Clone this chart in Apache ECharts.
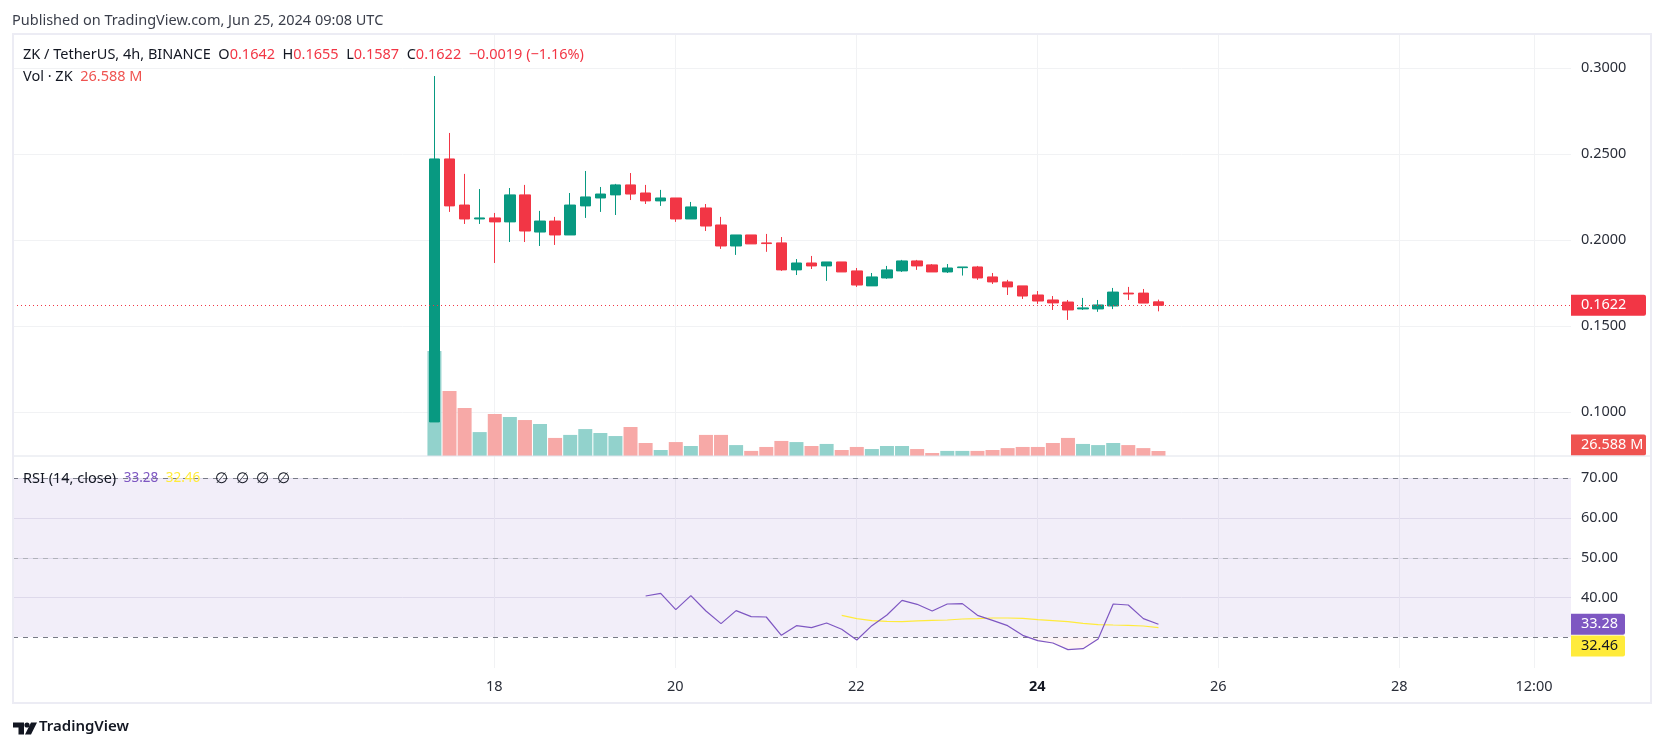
<!DOCTYPE html>
<html><head><meta charset="utf-8">
<style>html,body{margin:0;padding:0;background:#fff}#c{width:1664px;height:747px}</style>
<script src="https://cdn.jsdelivr.net/npm/echarts@6/dist/echarts.min.js"></script>
</head><body><div id="c"></div>
<script>
// candle index 0 = Jun 17 08:00, one step = 4h
const opens  = [.0944,.2473,.2205,.2124,.2130,.2107,.2264,.2048,.2112,.2031,.2200,.2246,.2264,.2322,.2275,.2229,.2246,.2124,.2188,.2089,.1967,.2031,.1985,.1985,.1828,.1868,.1851,.1874,.1822,.1735,.1781,.1822,.1880,.1857,.1816,.1841,.1845,.1787,.1758,.1735,.1682,.1653,.1641,.1601,.1601,.1618,.1693,.1693,.1642];
const closes = [.2473,.2200,.2124,.2130,.2107,.2264,.2054,.2112,.2031,.2205,.2252,.2269,.2322,.2269,.2229,.2246,.2124,.2194,.2083,.1967,.2031,.1979,.1981,.1828,.1868,.1851,.1874,.1816,.1740,.1787,.1828,.1880,.1851,.1816,.1839,.1845,.1781,.1758,.1729,.1676,.1647,.1636,.1595,.1607,.1624,.1699,.1688,.1635,.1622];
const highs  = [.2955,.2624,.2386,.2298,.2159,.2304,.2322,.2171,.2136,.2275,.2403,.2310,.2328,.2391,.2322,.2293,.2246,.2223,.2211,.2136,.2031,.2031,.2037,.2019,.1891,.1909,.1874,.1874,.1839,.1810,.1851,.1886,.1886,.1862,.1862,.1845,.1851,.1810,.1770,.1735,.1705,.1676,.1653,.1665,.1653,.1723,.1729,.1717,.1655];
const lows   = [.0944,.2165,.2095,.2095,.1868,.1990,.1990,.1967,.1973,.2031,.2130,.2165,.2147,.2234,.2211,.2200,.2107,.2124,.2054,.1950,.1915,.1979,.1933,.1822,.1798,.1833,.1764,.1816,.1729,.1735,.1776,.1816,.1828,.1816,.1810,.1795,.1770,.1746,.1682,.1659,.1630,.1595,.1537,.1595,.1584,.1600,.1653,.1635,.1587];
const volumes = [557.6,345,255,127,223,207,191,170,96,112,143,122,106,154,69,32,74,53,112,112,58,27,48,80,74,53,64,32,48,37,53,53,37,16,27,27,27,32,42,48,48,69,96,64,58,69,58,42,26.588];
const rsiStart = 14;
const rsi = [40.39,41.06,36.96,40.48,36.62,33.44,36.71,35.2,35.11,30.5,32.93,32.43,33.6,32.01,29.33,32.93,35.62,39.3,38.3,36.62,38.38,38.47,35.53,34.27,32.93,30.5,29.16,28.57,26.9,27.15,29.58,38.38,38.13,34.69,33.28];
const maStart = 27;
const rsiMa = [35.53,34.69,34.19,34.02,33.94,34.11,34.27,34.36,34.61,34.69,34.86,34.86,34.78,34.44,34.19,33.94,33.52,33.19,33.1,33.02,32.85,32.46];
const rsiBelow = [[39.3,30],[40,29.16],[41,28.57],[42,26.9],[43,27.15],[44,29.58],[44.05,30]];
const timeTicks = [3.97,15.97,27.97,39.97,51.97,63.97,72.9];
const timeLabels = ['18','20','22','24','26','28','12:00'];
const priceTicks = [0.10,0.15,0.20,0.25,0.30];
const rsiTicks = [40,50,60,70];
const lastPrice = 0.1622, lastVol = 26.588, lastRsi = 33.28, lastMa = 32.46;

const UP='#089981', DOWN='#f23645', FONT='"Noto Sans",sans-serif', TXT='#131722', GRID='#f1f2f4', F='14.5px ';
const candles = opens.map((o,i)=>[i,o,closes[i],lows[i],highs[i]]);
const volData = volumes.map((v,i)=>({value:[i,v],itemStyle:{color:closes[i]>=opens[i]?'#92d2cc':'#f7a9a7'}}));
const rsiData = rsi.map((v,i)=>[i+rsiStart,v]);
const maData = rsiMa.map((v,i)=>[i+maStart,v]);

const xMin=-27.94, xMax=75.35;
const baseX = {type:'value',min:xMin,max:xMax,
  axisLine:{show:false},
  axisTick:{show:false,customValues:timeTicks},
  splitLine:{show:true,lineStyle:{color:GRID,width:1}}};

function tag(val,text,bg,fg,w,offset,line){
  return {silent:true,symbol:'none',animation:false,z:20,precision:4,
    lineStyle:line||{color:'rgba(0,0,0,0)',width:0},
    label:{show:true,position:'end',distance:0,formatter:text,color:fg,backgroundColor:bg,
      fontFamily:FONT,fontSize:14.5,width:w,height:15,lineHeight:15,padding:[3,0,3,10],align:'left',
      borderRadius:[0,2,2,0],offset:offset||[0,0]},
    data:[{yAxis:val}]};
}
function helper(x,y,ml){return {type:'line',xAxisIndex:x,yAxisIndex:y,data:[],symbol:'none',z:7,markLine:ml};}

const chart = echarts.init(document.getElementById('c'),null,{renderer:'canvas'});
chart.setOption({
  animation:false,backgroundColor:'#fff',
  grid:[
    {left:13,right:93,top:34,height:422},
    {left:13,right:93,top:456,height:212}
  ],
  xAxis:[
    Object.assign({},baseX,{gridIndex:0,axisLabel:{show:false}}),
    Object.assign({},baseX,{gridIndex:1,axisLabel:{show:true,customValues:timeTicks,margin:11,
      fontFamily:FONT,fontSize:14.5,color:'#2a2e39',hideOverlap:false,
      formatter:v=>{const i=timeTicks.indexOf(v);const s=timeLabels[i];return s==='24'?'{b|'+s+'}':s;},
      rich:{b:{fontFamily:FONT,fontSize:14.5,fontWeight:'bold',color:'#131722'}}}})
  ],
  yAxis:[
    {type:'value',gridIndex:0,position:'right',min:0.07459,max:0.31994,
      axisLine:{show:false},axisTick:{show:false,customValues:priceTicks},
      splitLine:{show:true,lineStyle:{color:GRID,width:1}},
      axisLabel:{customValues:priceTicks,margin:10,padding:[2,0,0,0],fontFamily:FONT,fontSize:14.5,color:'#2a2e39',formatter:v=>v.toFixed(4)}},
    {type:'value',gridIndex:0,position:'right',min:0,max:2241,show:false},
    {type:'value',gridIndex:1,position:'right',min:22.28,max:75.61,
      axisLine:{show:false},axisTick:{show:false,customValues:rsiTicks},
      splitLine:{show:true,lineStyle:{color:'#e9e8f0',width:1}},
      axisLabel:{customValues:rsiTicks,margin:10,padding:[2,0,0,0],fontFamily:FONT,fontSize:14.5,color:'#2a2e39',formatter:v=>v.toFixed(2)}}
  ],
  series:[
    {name:'Vol',type:'bar',xAxisIndex:0,yAxisIndex:1,barWidth:14,data:volData,z:2},
    {name:'ZK',type:'candlestick',xAxisIndex:0,yAxisIndex:0,barWidth:11,z:5,
      encode:{x:0,y:[1,2,3,4]},data:candles,
      itemStyle:{color:UP,color0:DOWN,borderColor:UP,borderColor0:DOWN,borderWidth:1}},
    {name:'RSI',type:'line',xAxisIndex:1,yAxisIndex:2,data:rsiData,symbol:'none',z:6,
      lineStyle:{color:'#7e57c2',width:1.2},
      markArea:{silent:true,itemStyle:{color:'rgba(126,87,194,0.1)'},data:[[{yAxis:30},{yAxis:70}]]},
      markLine:{silent:true,symbol:'none',animation:false,z:3,label:{show:false},
        data:[
          {yAxis:70,lineStyle:{color:'#787b86',type:[5,5],width:1}},
          {yAxis:50,lineStyle:{color:'#b0b2ba',type:[5,5],width:1}},
          {yAxis:30,lineStyle:{color:'#787b86',type:[5,5],width:1}}]}},
    {name:'RSI below 30',type:'line',xAxisIndex:1,yAxisIndex:2,data:rsiBelow,symbol:'none',z:3,
      lineStyle:{opacity:0},areaStyle:{origin:30,color:'rgba(242,54,69,0.07)'}},
    {name:'RSI MA',type:'line',xAxisIndex:1,yAxisIndex:2,data:maData,symbol:'none',z:5,
      lineStyle:{color:'#ffeb3b',width:1.2}},
    helper(0,0,tag(lastPrice,'0.1622',DOWN,'#fff',65,[0,0],{color:DOWN,type:[1,3],width:1})),
    helper(0,1,tag(lastVol,'26.588 M','#ef5350','#fff',65,[0,-6])),
    helper(1,2,tag(lastMa,'32.46','#ffeb3b','#131722',44,[0,18.5])),
    helper(1,2,tag(lastRsi,'33.28','#7e57c2','#fff',44,[0,0]))
  ],
  graphic:[
    {type:'rect',shape:{x:13,y:34,width:1638,height:669},style:{fill:'none',stroke:'#ececf4',lineWidth:2},z:50,silent:true},
    {type:'line',shape:{x1:14,y1:456,x2:1650,y2:456},style:{stroke:'#e0e3eb',lineWidth:1},z:50,silent:true},
    {type:'text',x:12,y:13,z:60,style:{text:'Published on TradingView.com, Jun 25, 2024 09:08 UTC',font:F+FONT,fill:'#3a3e4a'}},
    {type:'text',x:23,y:47,z:60,style:{
      text:'ZK / TetherUS, 4h, BINANCE  O{r|0.1642}  H{r|0.1655}  L{r|0.1587}  C{r|0.1622}  {r|−0.0019 (−1.16%)}',
      font:F+FONT,fill:TXT,rich:{r:{fill:DOWN,font:F+FONT}}}},
    {type:'text',x:23,y:69,z:60,style:{text:'Vol · ZK  {r|26.588 M}',font:F+FONT,fill:TXT,rich:{r:{fill:'#ef5350',font:F+FONT}}}},
    {type:'text',x:23,y:471,z:60,style:{
      text:'RSI (14, close)  {p|33.28}  {y|32.46}    ∅  ∅  ∅  ∅',
      font:F+FONT,fill:TXT,rich:{p:{fill:'#7e57c2',font:'13.5px '+FONT},y:{fill:'#ffeb3b',font:'13.5px '+FONT}}}},
    {type:'polygon',shape:{points:[[13,722.5],[24,722.5],[24,734.5],[18.5,734.5],[18.5,727.5],[13,727.5]]},style:{fill:TXT},z:60},
    {type:'circle',shape:{cx:27,cy:725,r:2.6},style:{fill:TXT},z:60},
    {type:'polygon',shape:{points:[[31,722.5],[37,722.5],[31,734.5],[25,734.5]]},style:{fill:TXT},z:60},
    {type:'text',x:39,y:719,z:60,style:{text:'TradingView',font:'600 15px '+FONT,fill:TXT}}
  ]
});
</script></body></html>
